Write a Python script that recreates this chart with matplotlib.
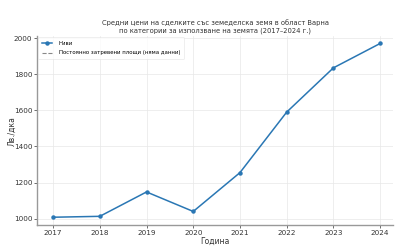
import matplotlib
matplotlib.use("Agg")
import matplotlib.pyplot as plt

years = [2017, 2018, 2019, 2020, 2021, 2022, 2023, 2024]
fields = [1008, 1013, 1148, 1040, 1255, 1590, 1835, 1970]
pastures = []  # no data
yticks = [1000, 1200, 1400, 1600, 1800, 2000]

plt.rcParams['font.family'] = ['DejaVu Sans']
fig, ax = plt.subplots(figsize=(4, 2.5), dpi=100)
fig.subplots_adjust(left=0.093, right=0.983, top=0.855, bottom=0.1)

ax.plot(years, fields, color='#2a77b4', marker='o', markersize=2.2, linewidth=1.1, label='Ниви')
ax.plot([], [], color='#888888', linestyle='--', linewidth=0.8, label='Постоянно затревени площи (няма данни)')

ax.set_title('Средни цени на сделките със земеделска земя в област Варна\nпо категории за използване на земята (2017–2024 г.)',
             fontsize=4.9, color='#333333', pad=3, linespacing=1.15)
ax.set_xlabel('Година', fontsize=5.5, color='#333333', labelpad=1)
ax.set_ylabel('Лв./дка', fontsize=5.5, color='#333333')
ax.yaxis.set_label_coords(-0.058, 0.5)
ax.set_xticks(years)
ax.set_yticks(yticks)
ax.set_xlim(2016.66, 2024.28)
ax.set_ylim(965, 2010)
ax.tick_params(labelsize=5.2, colors='#333333', length=2, width=0.5, pad=1.5)
ax.grid(True, color='#e8e8e8', linewidth=0.5)
for s in ['top', 'right']:
    ax.spines[s].set_visible(False)
for s in ['left', 'bottom']:
    ax.spines[s].set_color('#999999')
    ax.spines[s].set_linewidth(1.0)
leg = ax.legend(loc='upper left', fontsize=3.9, frameon=True, borderaxespad=0.2,
                handlelength=2.0, handletextpad=1.2, labelspacing=0.9, borderpad=0.6)
leg.get_frame().set_linewidth(0.4)
leg.get_frame().set_edgecolor('#dddddd')
fig.savefig('out.png', dpi=100)
